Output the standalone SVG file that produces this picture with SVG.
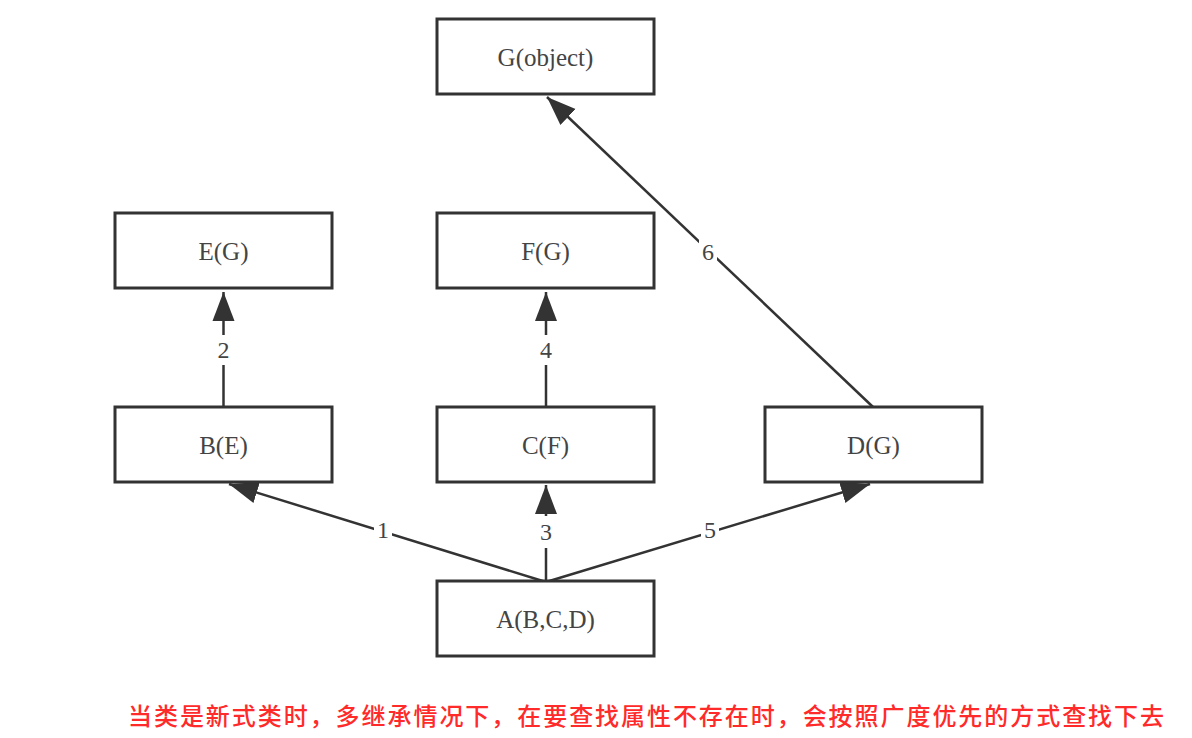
<svg xmlns="http://www.w3.org/2000/svg" width="1192" height="738" viewBox="0 0 1192 738">
<style>
.box{fill:#fff;stroke:#333;stroke-width:3}
.lbl{font-family:"Liberation Serif","Times New Roman",serif;font-size:25px;fill:#444;text-anchor:middle;dominant-baseline:central}
.edge{stroke:#333;stroke-width:2.5;fill:none}
.elbl{font-family:"Liberation Serif","Times New Roman",serif;font-size:24px;fill:#444;text-anchor:middle;dominant-baseline:central}
.bg{fill:#fff}
.note{font-family:"Noto Sans CJK SC","Noto Sans",sans-serif;font-size:24px;fill:#ff2a2a;font-weight:500}
</style>
<defs>
<marker id="arr" markerUnits="userSpaceOnUse" markerWidth="30" markerHeight="24" refX="29" refY="11" orient="auto" viewBox="0 0 30 22">
<path d="M0,0 L29,11 L0,22 Z" fill="#333"/>
</marker>
</defs>
<rect width="1192" height="738" fill="#fff"/>
<g id="connectors">
<g id="e1"><line class="edge" x1="546" y1="582" x2="229" y2="484" marker-end="url(#arr)"/><rect class="bg" x="374" y="517" width="18" height="26"/><text class="elbl" x="383" y="530">1</text></g>
<g id="e2"><line class="edge" x1="223.5" y1="407" x2="223.5" y2="292" marker-end="url(#arr)"/><rect class="bg" x="214" y="335" width="19" height="30"/><text class="elbl" x="223.5" y="350">2</text></g>
<g id="e3"><line class="edge" x1="546" y1="582" x2="546" y2="485" marker-end="url(#arr)"/><rect class="bg" x="536" y="516" width="19" height="32"/><text class="elbl" x="546" y="532">3</text></g>
<g id="e4"><line class="edge" x1="546" y1="407" x2="546" y2="292" marker-end="url(#arr)"/><rect class="bg" x="536" y="335" width="19" height="30"/><text class="elbl" x="546" y="350">4</text></g>
<g id="e5"><line class="edge" x1="546" y1="582" x2="870" y2="484" marker-end="url(#arr)"/><rect class="bg" x="701" y="517" width="18" height="26"/><text class="elbl" x="710" y="530">5</text></g>
<g id="e6"><line class="edge" x1="873" y1="407" x2="547" y2="97" marker-end="url(#arr)"/><rect class="bg" x="699" y="238" width="18" height="28"/><text class="elbl" x="708" y="252">6</text></g>
</g>
<g id="G"><rect class="box" x="437" y="19" width="217" height="75"/><text class="lbl" x="545.5" y="57">G(object)</text></g>
<g id="E"><rect class="box" x="115" y="213" width="217" height="75"/><text class="lbl" x="223.5" y="251">E(G)</text></g>
<g id="F"><rect class="box" x="437" y="213" width="217" height="75"/><text class="lbl" x="545.5" y="251">F(G)</text></g>
<g id="B"><rect class="box" x="115" y="407" width="217" height="75"/><text class="lbl" x="223.5" y="445">B(E)</text></g>
<g id="C"><rect class="box" x="437" y="407" width="217" height="75"/><text class="lbl" x="545.5" y="445">C(F)</text></g>
<g id="D"><rect class="box" x="765" y="407" width="217" height="75"/><text class="lbl" x="873.5" y="445">D(G)</text></g>
<g id="A"><rect class="box" x="437" y="581" width="217" height="75"/><text class="lbl" x="545.5" y="619">A(B,C,D)</text></g>
<text class="note" x="128" y="725" textLength="1036" lengthAdjust="spacing">当类是新式类时，多继承情况下，在要查找属性不存在时，会按照广度优先的方式查找下去</text>
</svg>
